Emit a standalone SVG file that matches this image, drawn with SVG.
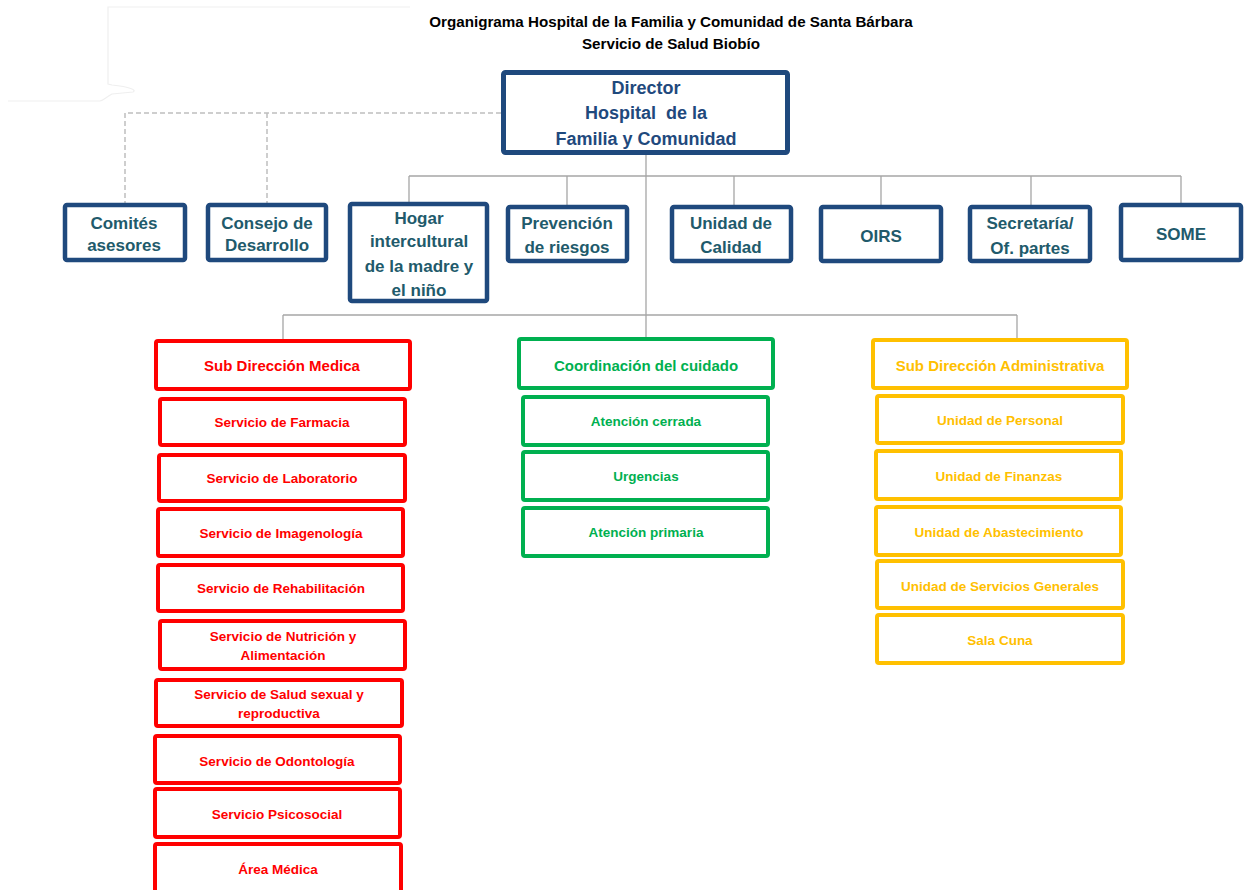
<svg xmlns="http://www.w3.org/2000/svg" width="1259" height="890" viewBox="0 0 1259 890">
<style>
text{font-family:"Liberation Sans",Arial,sans-serif;font-weight:bold;text-anchor:middle}
.title{font-size:15.2px;fill:#000}
.dir rect{fill:#fff;stroke:#1f497d;stroke-width:5}
.dir text{font-size:18px;fill:#1f497d}
.top rect{fill:#fff;stroke:#1f497d;stroke-width:4.5}
.top text{font-size:17px;fill:#215a6b}
.red rect{fill:#fff;stroke:#ff0000;stroke-width:4}
.red text{font-size:13.5px;fill:#ff0000}
.grn rect{fill:#fff;stroke:#00b050;stroke-width:4}
.grn text{font-size:13.5px;fill:#00b050}
.ylw rect{fill:#fff;stroke:#ffc000;stroke-width:4}
.ylw text{font-size:13.5px;fill:#ffc000}
text.h{font-size:15px}
.conn path{fill:none;stroke:#a6a6a6;stroke-width:1.3}
.conn path.dash{stroke:#bfbfbf;stroke-width:1.5;stroke-dasharray:5 3}
.faint{fill:none;stroke:#efefef;stroke-width:1.2}
</style>
<rect width="1259" height="890" fill="#fff"/>
<path class="faint" d="M8,101 L100,101 C104,100 106,97 112,94 L133,92 C137,90 130,87 112,85 L108,84 L108,7 L410,7"/>
<g id="title">
<text class="title" x="671" y="27">Organigrama Hospital de la Familia y Comunidad de Santa Bárbara</text>
<text class="title" x="671" y="49">Servicio de Salud Biobío</text>
</g>
<g class="conn" id="connectors">
<path class="dash" d="M501,113 H125 V203 M267,113 V205"/>
<path d="M646,155 V315 M409,176 H1181 M409,176 V202 M567,176 V205 M734,176 V205 M881,176 V205 M1031,176 V205 M1181,176 V203"/>
<path d="M283,315 H1017 M283,315 V339 M646,315 V337 M1017,315 V338"/>
</g>
<g class="dir" id="director">
<rect x="503.5" y="72.5" width="284" height="80" rx="2"/>
<text x="646" y="94">Director</text>
<text x="646" y="119" xml:space="preserve">Hospital  de la</text>
<text x="646" y="145">Familia y Comunidad</text>
</g>
<g class="top" id="comites"><rect x="65" y="205" width="120" height="55" rx="2"/><text x="124" y="229">Comités</text><text x="124" y="251">asesores</text></g>
<g class="top" id="consejo"><rect x="208" y="205" width="118" height="55" rx="2"/><text x="267" y="229">Consejo de</text><text x="267" y="251">Desarrollo</text></g>
<g class="top" id="hogar"><rect x="350" y="204" width="137" height="97" rx="2"/><text x="419" y="224">Hogar</text><text x="419" y="247">intercultural</text><text x="419" y="272">de la madre y</text><text x="419" y="296">el niño</text></g>
<g class="top" id="prevencion"><rect x="508" y="207" width="119" height="54" rx="2"/><text x="567" y="229">Prevención</text><text x="567" y="253">de riesgos</text></g>
<g class="top" id="calidad"><rect x="672" y="207" width="119" height="54" rx="2"/><text x="731" y="229">Unidad de</text><text x="731" y="253">Calidad</text></g>
<g class="top" id="oirs"><rect x="821" y="207" width="120" height="54" rx="2"/><text x="881" y="242">OIRS</text></g>
<g class="top" id="secretaria"><rect x="970" y="207" width="120" height="54" rx="2"/><text x="1030" y="229">Secretaría/</text><text x="1030" y="254">Of. partes</text></g>
<g class="top" id="some"><rect x="1121" y="205" width="120" height="55" rx="2"/><text x="1181" y="240">SOME</text></g>

<g class="red" id="subdir-medica"><rect x="156" y="341" width="254" height="48" rx="2"/><text class="h" x="282" y="371">Sub Dirección Medica</text></g>
<g class="red" id="farmacia"><rect x="160" y="399" width="245" height="46" rx="2"/><text x="282" y="427">Servicio de Farmacia</text></g>
<g class="red" id="laboratorio"><rect x="159" y="455" width="246" height="46" rx="2"/><text x="282" y="483">Servicio de Laboratorio</text></g>
<g class="red" id="imagenologia"><rect x="158" y="509" width="245" height="47" rx="2"/><text x="281" y="538">Servicio de Imagenología</text></g>
<g class="red" id="rehabilitacion"><rect x="158" y="565" width="245" height="46" rx="2"/><text x="281" y="593">Servicio de Rehabilitación</text></g>
<g class="red" id="nutricion"><rect x="160" y="621" width="245" height="48" rx="2"/><text x="283" y="641">Servicio de Nutrición y</text><text x="283" y="660">Alimentación</text></g>
<g class="red" id="salud-sexual"><rect x="156" y="680" width="246" height="46" rx="2"/><text x="279" y="699">Servicio de Salud sexual y</text><text x="279" y="718">reproductiva</text></g>
<g class="red" id="odontologia"><rect x="155" y="736" width="245" height="47" rx="2"/><text x="277" y="766">Servicio de Odontología</text></g>
<g class="red" id="psicosocial"><rect x="155" y="789" width="245" height="48" rx="2"/><text x="277" y="819">Servicio Psicosocial</text></g>
<g class="red" id="area-medica"><rect x="155" y="844" width="246" height="56" rx="2"/><text x="278" y="874">Área Médica</text></g>

<g class="grn" id="coordinacion"><rect x="519" y="339" width="254" height="49" rx="2"/><text class="h" x="646" y="371">Coordinación del cuidado</text></g>
<g class="grn" id="atencion-cerrada"><rect x="523" y="397" width="245" height="48" rx="2"/><text x="646" y="426">Atención cerrada</text></g>
<g class="grn" id="urgencias"><rect x="523" y="452" width="245" height="48" rx="2"/><text x="646" y="481">Urgencias</text></g>
<g class="grn" id="atencion-primaria"><rect x="523" y="508" width="245" height="48" rx="2"/><text x="646" y="537">Atención primaria</text></g>

<g class="ylw" id="subdir-admin"><rect x="873" y="340" width="254" height="48" rx="2"/><text class="h" x="1000" y="371">Sub Dirección Administrativa</text></g>
<g class="ylw" id="personal"><rect x="877" y="396" width="246" height="47" rx="2"/><text x="1000" y="425">Unidad de Personal</text></g>
<g class="ylw" id="finanzas"><rect x="876" y="451" width="245" height="48" rx="2"/><text x="999" y="481">Unidad de Finanzas</text></g>
<g class="ylw" id="abastecimiento"><rect x="876" y="507" width="245" height="48" rx="2"/><text x="999" y="537">Unidad de Abastecimiento</text></g>
<g class="ylw" id="servicios-generales"><rect x="877" y="561" width="246" height="47" rx="2"/><text x="1000" y="591">Unidad de Servicios Generales</text></g>
<g class="ylw" id="sala-cuna"><rect x="877" y="615" width="246" height="48" rx="2"/><text x="1000" y="645">Sala Cuna</text></g>
</svg>
